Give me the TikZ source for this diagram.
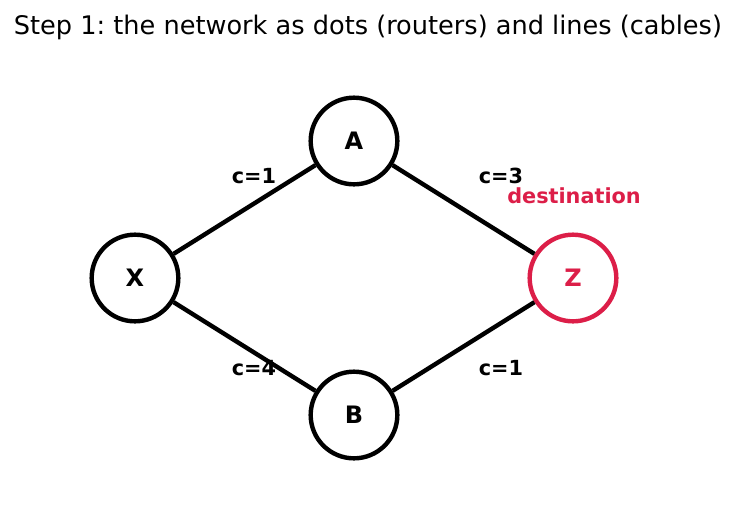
\documentclass[tikz,border=0pt]{standalone}
\usepackage{fontspec}
\setmainfont{DejaVu Sans}
\usepackage{xcolor}
\usetikzlibrary{positioning}
\definecolor{destred}{RGB}{220,30,72}
\frenchspacing

\begin{document}
\begin{tikzpicture}[x=0.75pt,y=-0.75pt,
    router/.style={draw,circle,line width=3.3pt,fill=white,
                   minimum size=65pt,inner sep=0pt,font=\fontsize{18}{20}\selectfont\bfseries},
    cable/.style={line width=3.3pt},
    cost/.style={font=\fontsize{15.6}{17}\selectfont\bfseries}]
    \useasboundingbox (0,0) rectangle (736,512);
    \node[font=\fontsize{19.2}{22}\selectfont] (title) at (368,27)
      {Step 1: the network as dots (routers) and lines (cables)};
    \node[router] (x) at (135,278) {X};
    \node[router] (a) at (354,141) {A};
    \node[router] (b) at (354,415) {B};
    \node[router,draw=destred,text=destred] (z) at (573,278) {Z};
    \draw[cable] (x) -- (a);
    \draw[cable] (a) -- (z);
    \draw[cable] (x) -- (b);
    \draw[cable] (b) -- (z);
    \node[cost] (xa) at (254,176) {c=1};
    \node[cost] (az) at (501,176) {c=3};
    \node[cost] (xb) at (254,368) {c=4};
    \node[cost] (bz) at (501,368) {c=1};
    \node[cost,text=destred] (dest) at (574,196) {destination};
\end{tikzpicture}
\end{document}
